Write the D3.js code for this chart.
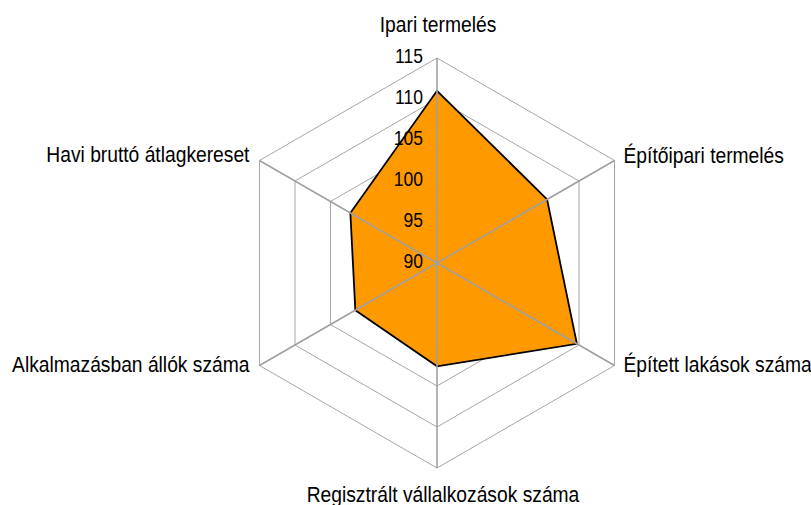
<!DOCTYPE html>
<html>
<head>
<meta charset="utf-8">
<script src="https://cdn.jsdelivr.net/npm/d3@7"></script>
<style>
  body { margin: 0; background: #fff; }
  svg { display: block; font-family: "Liberation Sans", Arial, sans-serif; }
</style>
</head>
<body>
<svg id="chart" width="811" height="505"></svg>
<script>
// Data
const categories = [
  "Ipari termelés",
  "Építőipari termelés",
  "Épített lakások száma",
  "Regisztrált vállalkozások száma",
  "Alkalmazásban állók száma",
  "Havi bruttó átlagkereset"
];
const values = [111.0, 105.5, 109.7, 102.6, 101.5, 102.2];
const ticks = [90, 95, 100, 105, 110, 115];

// Layout
const cx = 437, cy = 263, R = 205;
const squeeze = 0.875;

const svg = d3.select("#chart");
const r = d3.scaleLinear().domain([90, 115]).range([0, R]);
const angle = i => i * 2 * Math.PI / categories.length;
const pt = (i, v) => [cx + r(v) * Math.sin(angle(i)), cy - r(v) * Math.cos(angle(i))];

// Rings (under the fill)
const ringLine = d3.line();
svg.append("g")
  .selectAll("path")
  .data(ticks.slice(1))
  .join("path")
  .attr("d", t => ringLine(categories.map((c, i) => pt(i, t))) + "Z")
  .attr("fill", "none")
  .attr("stroke", "#a6a6a6")
  .attr("stroke-width", 1);

// Data polygon
svg.append("path")
  .attr("d", ringLine(values.map((v, i) => pt(i, v))) + "Z")
  .attr("fill", "#ff9900")
  .attr("stroke", "#000")
  .attr("stroke-width", 1.8)
  .attr("stroke-linejoin", "miter");

// Spokes (on top)
svg.append("g")
  .selectAll("line")
  .data(categories)
  .join("line")
  .attr("x1", cx).attr("y1", cy)
  .attr("x2", (d, i) => pt(i, 115)[0])
  .attr("y2", (d, i) => pt(i, 115)[1])
  .attr("stroke", "#a0a0a0")
  .attr("stroke-width", 1.6);

// Tick labels
svg.append("g")
  .selectAll("text")
  .data(ticks)
  .join("text")
  .attr("transform", t => `translate(${cx - 14},${cy - r(t) + 5}) scale(${squeeze},1)`)
  .attr("text-anchor", "end")
  .attr("font-size", 20)
  .attr("fill", "#000")
  .text(t => t);

// Category labels
function labelPos(i) {
  const [x, y] = pt(i, 115);
  const s = Math.sin(angle(i)), c = Math.cos(angle(i));
  if (Math.abs(s) < 0.01) {
    return c > 0 ? { x: x + 1, y: y - 26, anchor: "middle" } : { x: x + 6, y: y + 34, anchor: "middle" };
  }
  if (s > 0) return { x: x + 9, y: y + (c > 0 ? 2.5 : 6.5), anchor: "start" };
  return { x: x - 10, y: y + (c > 0 ? 1.5 : 6), anchor: "end" };
}

svg.append("g")
  .selectAll("text")
  .data(categories)
  .join("text")
  .attr("transform", (d, i) => {
    const p = labelPos(i);
    return `translate(${p.x},${p.y}) scale(${squeeze},1)`;
  })
  .attr("text-anchor", (d, i) => labelPos(i).anchor)
  .attr("font-size", 22)
  .attr("fill", "#000")
  .text(d => d);
</script>
</body>
</html>
